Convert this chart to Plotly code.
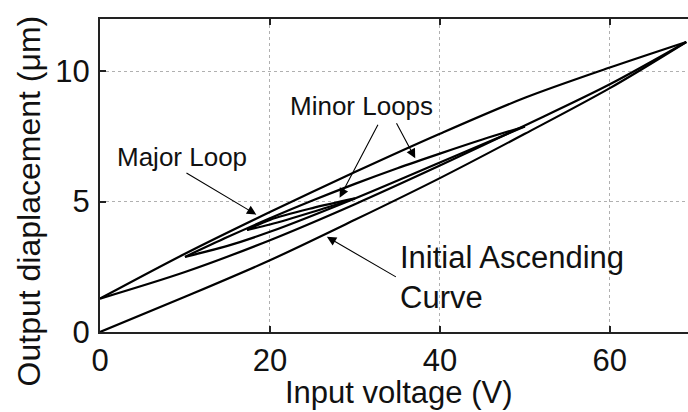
import plotly.graph_objects as go

# Input voltage (V) and output displacement (um) for each branch
init_v = [0, 10, 20, 30, 40, 50, 60, 69]
init_d = [0, 1.35, 2.75, 4.3, 5.9, 7.6, 9.35, 11.12]

major_up_v = [0, 10, 20, 30, 40, 50, 60, 69]
major_up_d = [1.28, 2.3, 3.52, 4.9, 6.38, 7.92, 9.5, 11.12]

major_down_v = [69, 60, 50, 40, 30, 20, 10, 0]
major_down_d = [11.12, 10.14, 8.98, 7.6, 6.13, 4.6, 3.0, 1.28]

minor1_down_v = [50, 45, 40, 35, 30, 25, 20, 15, 10]
minor1_down_d = [7.88, 7.38, 6.84, 6.28, 5.68, 5.04, 4.36, 3.64, 2.88]

minor1_up_v = [10, 15, 20, 30, 40, 50]
minor1_up_d = [2.88, 3.3, 3.84, 5.12, 6.5, 7.88]

minor2_down_v = [30, 25, 20, 17.3]
minor2_down_d = [5.12, 4.75, 4.3, 3.91]

minor2_up_v = [17.3, 20, 25, 30]
minor2_up_d = [3.91, 4.12, 4.6, 5.12]

x_ticks = [0, 20, 40, 60]
y_ticks = [0, 5, 10]

FONT = "Liberation Sans, Arial, sans-serif"
INK = "#111111"

fig = go.Figure()
branches = [
    (init_v, init_d),
    (major_up_v, major_up_d),
    (major_down_v, major_down_d),
    (minor1_down_v, minor1_down_d),
    (minor1_up_v, minor1_up_d),
    (minor2_down_v, minor2_down_d),
    (minor2_up_v, minor2_up_d),
]
for v, d in branches:
    fig.add_trace(go.Scatter(
        x=v, y=d, mode="lines",
        line=dict(color="#000000", width=2.2, shape="spline", smoothing=0.9),
        showlegend=False, hoverinfo="skip",
    ))

# Text labels inside the plot
labels = [
    dict(x=9.6, y=6.7, text="Major Loop", size=26),
    dict(x=30.8, y=8.66, text="Minor Loops", size=26),
]
for lb in labels:
    fig.add_annotation(
        x=lb["x"], y=lb["y"], xref="x", yref="y", text=lb["text"],
        showarrow=False, xanchor="center", yanchor="middle",
        font=dict(family=FONT, size=lb["size"], color=INK),
    )
fig.add_annotation(
    x=35.1, y=2.1, xref="x", yref="y", text="Initial Ascending<br>Curve",
    showarrow=False, xanchor="left", yanchor="middle", align="left",
    font=dict(family=FONT, size=31, color=INK),
)

# Pointer arrows: (head_x, head_y, tail_x, tail_y)
arrows = [
    (18.4, 4.5, 10.0, 6.13),
    (28.2, 5.15, 32.8, 8.0),
    (37.1, 6.66, 34.8, 8.06),
    (26.7, 3.65, 35.0, 2.08),
]
for hx, hy, tx, ty in arrows:
    fig.add_annotation(
        x=hx, y=hy, ax=tx, ay=ty, xref="x", yref="y", axref="x", ayref="y",
        text="", showarrow=True, arrowhead=2, arrowsize=1.7, arrowwidth=1.1,
        arrowcolor="#000000",
    )

# Axis titles
fig.add_annotation(
    x=0.5076, y=-0.193, xref="paper", yref="paper", text="Input voltage (V)",
    showarrow=False, xanchor="center", yanchor="middle",
    font=dict(family=FONT, size=31, color=INK),
)
fig.add_annotation(
    x=-0.121, y=0.42, xref="paper", yref="paper", text="Output diaplacement (\u03bcm)",
    showarrow=False, xanchor="center", yanchor="middle", textangle=-90,
    font=dict(family=FONT, size=32, color=INK),
)

axis_common = dict(
    showline=True, linecolor="#222222", linewidth=2,
    ticks="inside", ticklen=6, tickwidth=1.5, tickcolor="#222222",
    showgrid=True, gridcolor="#b0b0b0", gridwidth=1, griddash="dot",
    zeroline=False,
    tickfont=dict(family=FONT, size=31, color=INK),
)

fig.update_xaxes(
    range=[0, 69.2], tickvals=x_ticks, mirror="ticks", ticklabelstandoff=0,
    **axis_common,
)
fig.update_yaxes(
    range=[0, 12], tickvals=y_ticks, mirror=False, ticklabelstandoff=2,
    **axis_common,
)

fig.update_layout(
    width=688, height=412,
    margin=dict(l=100, r=0, t=19, b=80),
    paper_bgcolor="white", plot_bgcolor="white",
)

fig.write_html("out.html")
